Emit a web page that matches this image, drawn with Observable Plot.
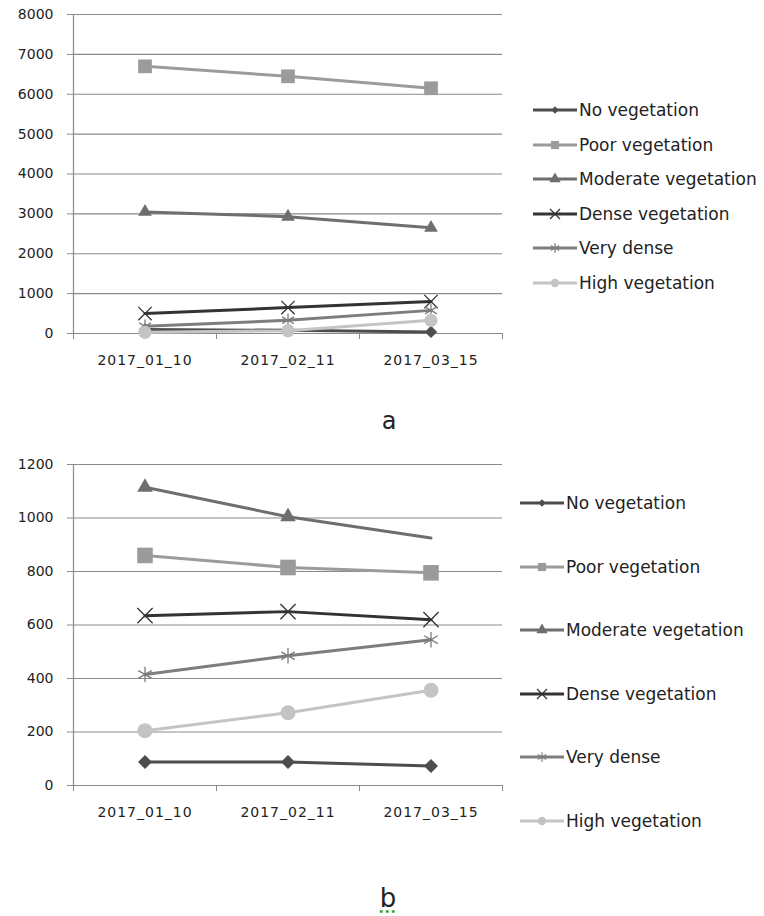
<!DOCTYPE html>
<html><head><meta charset="utf-8">
<script src="https://cdn.jsdelivr.net/npm/d3@7"></script>
<script src="https://cdn.jsdelivr.net/npm/@observablehq/plot@0.6"></script>
<style>
body{margin:0;background:#fff;font-family:"DejaVu Sans",sans-serif;}
#page{position:relative;width:764px;height:916px;overflow:hidden;background:#fff}
.chart{position:absolute;left:0}
.item{position:absolute;display:flex;align-items:center;font-size:17px;color:#222;white-space:nowrap;height:22px}
.item svg{display:block;margin-right:2px}
.panel{position:absolute;color:#222;line-height:1;transform:translateX(-50%)}
</style></head><body><div id="page"></div>
<script>
// ---- data ----
const dates = ["2017_01_10", "2017_02_11", "2017_03_15"];
const seriesNames = ["No vegetation", "Poor vegetation", "Moderate vegetation", "Dense vegetation", "Very dense", "High vegetation"];
// chart a
const noVegA = [100, 80, 40];
const poorVegA = [6700, 6450, 6150];
const modVegA = [3050, 2930, 2650];
const denseVegA = [500, 650, 800];
const veryDenseA = [180, 330, 580];
const highVegA = [30, 70, 330];
const yTicksA = [0, 1000, 2000, 3000, 4000, 5000, 6000, 7000, 8000];
// chart b
const noVegB = [88, 88, 73];
const poorVegB = [860, 815, 795];
const modVegB = [1115, 1005, 925];
const denseVegB = [635, 650, 620];
const veryDenseB = [415, 485, 545];
const highVegB = [205, 272, 356];
const yTicksB = [0, 200, 400, 600, 800, 1000, 1200];
const xBoundaries = [-0.5, 0.5, 1.5, 2.5];
const xCenters = [0, 1, 2];

// ---- styles ----
const styles = [
  {color: "#4d4d4d", symbol: "diamond2", r: 6.3, filled: true, lr: 3.4},
  {color: "#9b9b9b", symbol: "square", r: 8.8, filled: true, lr: 4.6},
  {color: "#6e6e6e", symbol: "triangle", r: 5.8, filled: true, lr: 4.2},
  {color: "#333333", symbol: "times", r: 7, filled: false, lr: 4.6},
  {color: "#7d7d7d", symbol: "asterisk", r: 7.4, filled: false, lr: 4.6},
  {color: "#c4c4c4", symbol: "circle", r: 7.5, filled: true, lr: 4.2}
];
const d3sym = {diamond2: d3.symbolDiamond2, square: d3.symbolSquare, triangle: d3.symbolTriangle,
  times: d3.symbolTimes, asterisk: d3.symbolAsterisk, circle: d3.symbolCircle};
const gridColor = "#8a8a8a";
const page = document.getElementById("page");

function makeChart(seriesVals, yTicks, top, height, mt, mb, scale, hidden) {
  const marks = [
    Plot.gridY(yTicks, {stroke: gridColor, strokeOpacity: 1, strokeWidth: 1.2}),
    Plot.ruleX([-0.5], {stroke: gridColor, strokeWidth: 1.2}),
    Plot.axisY(yTicks, {label: null, tickSize: 6, tickPadding: 14, stroke: gridColor, fill: "#222", fontSize: 14, tickFormat: d => String(d)}),
    Plot.axisX(xBoundaries, {label: null, tickSize: 6, tickFormat: () => "", stroke: gridColor}),
    Plot.axisX(xCenters, {label: null, tickSize: 0, tickPadding: 22, tickFormat: i => dates[i], fill: "#222", fontSize: 14})
  ];
  seriesNames.forEach((name, s) => {
    const st = styles[s];
    const rows = seriesVals[s].map((v, i) => ({name, i, v}));
    marks.push(Plot.line(rows, {x: "i", y: "v", stroke: st.color, strokeWidth: 3}));
    const dotRows = rows.filter(d => !(hidden && hidden[0] === name && hidden[1] === d.i));
    marks.push(Plot.dot(dotRows, {x: "i", y: "v", symbol: st.symbol, r: st.r * scale,
      fill: st.filled ? st.color : "none", stroke: st.filled ? "none" : st.color, strokeWidth: 1.3}));
  });
  const svg = Plot.plot({
    width: 764, height, marginLeft: 73, marginRight: 262, marginTop: mt, marginBottom: mb,
    x: {type: "linear", domain: [-0.5, 2.5], label: null},
    y: {domain: [yTicks[0], yTicks[yTicks.length - 1]], label: null},
    style: {fontFamily: "DejaVu Sans", fontSize: "14px", color: "#222", background: "transparent", overflow: "visible"},
    marks
  });
  svg.classList.add("chart");
  svg.style.top = top + "px";
  svg.querySelectorAll('[aria-label="x-axis tick label"] text').forEach(t => t.setAttribute("letter-spacing", "1"));
  page.appendChild(svg);
}

function makeLegend(left, firstCenter, step) {
  seriesNames.forEach((name, s) => {
    const st = styles[s];
    const div = document.createElement("div");
    div.className = "item";
    div.style.left = left + "px";
    div.style.top = (firstCenter + s * step - 11) + "px";
    const sv = d3.create("svg").attr("width", 44).attr("height", 22);
    sv.append("line").attr("x1", 0).attr("x2", 44).attr("y1", 11).attr("y2", 11)
      .attr("stroke", st.color).attr("stroke-width", 3);
    sv.append("path").attr("transform", "translate(22,11)")
      .attr("d", d3.symbol(d3sym[st.symbol], Math.PI * st.lr * st.lr)())
      .attr("fill", st.filled ? st.color : "none").attr("stroke", st.filled ? "none" : st.color).attr("stroke-width", 1.2);
    div.appendChild(sv.node());
    const span = document.createElement("span");
    span.textContent = name;
    div.appendChild(span);
    page.appendChild(div);
  });
}

function panelLabel(text, x, top, size, underline) {
  const d = document.createElement("div");
  d.className = "panel";
  d.textContent = text;
  d.style.left = x + "px";
  d.style.top = top + "px";
  d.style.fontSize = size + "px";
  if (underline) {
    d.style.textDecoration = "underline dotted #3aa63a";
    d.style.textUnderlineOffset = "3px";
  }
  page.appendChild(d);
}

makeChart([noVegA, poorVegA, modVegA, denseVegA, veryDenseA, highVegA], yTicksA, 0, 390, 14, 57, 0.88, null);
makeChart([noVegB, poorVegB, modVegB, denseVegB, veryDenseB, highVegB], yTicksB, 440, 400, 24, 55, 1, ["Moderate vegetation", 2]);
makeLegend(533, 110, 34.6);
makeLegend(520, 503, 63.6);
panelLabel("a", 389, 409, 24, false);
panelLabel("b", 388, 885, 26, true);
</script></body></html>
